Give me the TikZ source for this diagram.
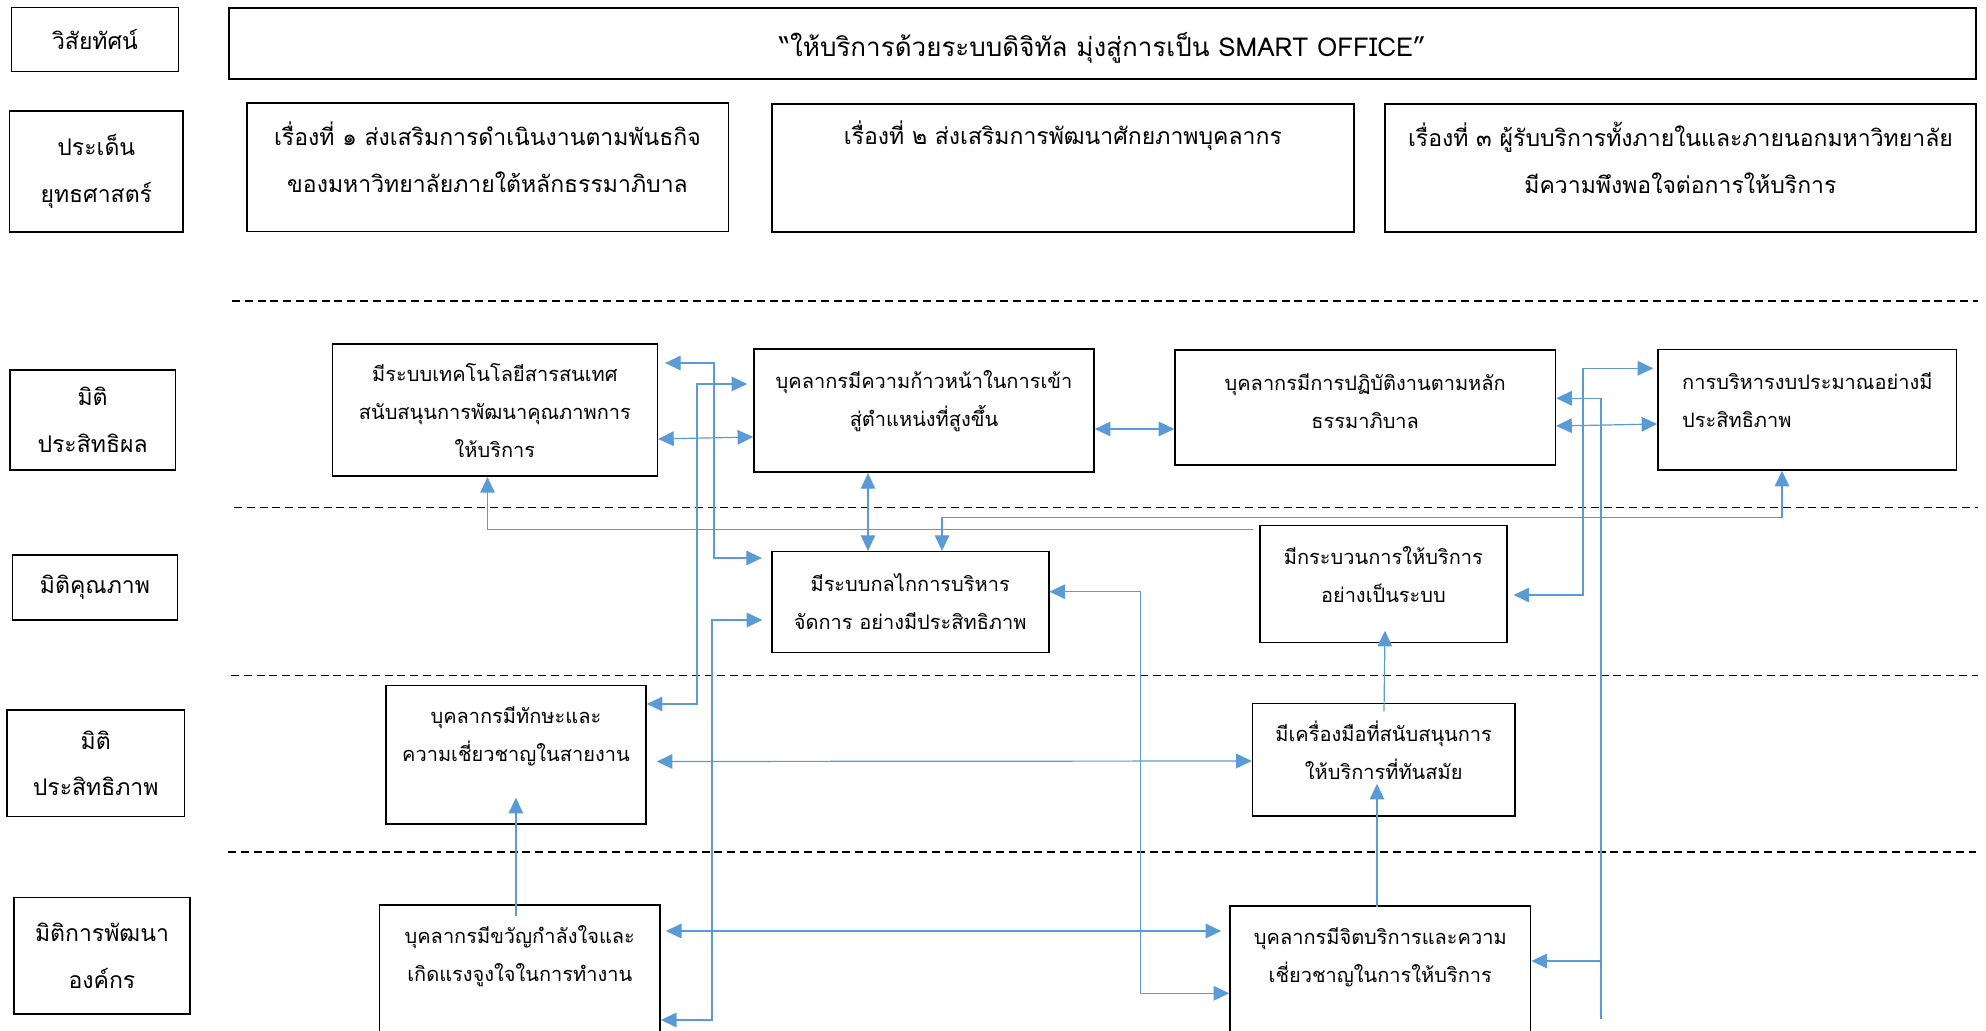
\documentclass[tikz,border=0pt]{standalone}
\usepackage{fontspec}
\newfontfamily\thaifont[Script=Thai]{Loma}
\usetikzlibrary{arrows.meta, calc}
\definecolor{linkblue}{RGB}{91,155,213}

\begin{document}
\begin{tikzpicture}[x=0.5pt, y=-0.5pt,
  every node/.style={align=center, font=\thaifont\fontsize{10}{19}\selectfont},
  head/.style={font=\thaifont\fontsize{11.5}{23.4}\selectfont},
  box/.style={draw, line width=0.8pt, inner sep=1pt},
  link/.style={draw=linkblue, line width=0.6pt},
  sep/.style={dash pattern=on 4pt off 2.4pt, line width=0.7pt},
  >={Triangle[length=7.8pt, width=7.3pt]}]
\useasboundingbox (0,0) rectangle (1986,1031);
\clip (0,0) rectangle (1986,1031);

% vision and strategic issues
\node[box, head, minimum width=83.5pt, minimum height=32pt] (lvision) at (95,39.5) {วิสัยทัศน์};
\node[box, minimum width=873.5pt, minimum height=35.5pt] (vision) at (1102.5,43.7) {};
\node[font=\thaifont\fontsize{13}{20}\selectfont] (visiontxt) at ($(vision)+(0,4)$) {“ให้บริการด้วยระบบดิจิทัล มุ่งสู่การเป็น SMART OFFICE”};
\node[box, head, minimum width=86.7pt, minimum height=60.5pt] (lissue) at (96.3,171.7) {ประเด็น\\ยุทธศาสตร์};
\node[box, minimum width=240.8pt, minimum height=64.2pt] (issue1) at (487.5,167.5) {};
\node[head] (issue1txt) at ($(issue1)+(0,-10)$) {เรื่องที่ ๑ ส่งเสริมการดำเนินงานตามพันธกิจ\\ของมหาวิทยาลัยภายใต้หลักธรรมาภิบาล};
\node[box, minimum width=291.2pt, minimum height=63.9pt] (issue2) at (1062.9,167.9) {};
\node[head] (issue2txt) at ($(issue2)+(0,-32)$) {เรื่องที่ ๒ ส่งเสริมการพัฒนาศักยภาพบุคลากร};
\node[box, minimum width=295.6pt, minimum height=63.9pt] (issue3) at (1680.4,167.9) {};
\node[head] (issue3txt) at ($(issue3)+(0,-10)$) {เรื่องที่ ๓ ผู้รับบริการทั้งภายในและภายนอกมหาวิทยาลัย\\มีความพึงพอใจต่อการให้บริการ};

% dimension separators
\draw[sep] (232,301) -- (1978,301);
\draw[sep] (234,507.7) -- (1978,507.7);
\draw[sep] (231,675.5) -- (1978,675.5);
\draw[sep] (228,852) -- (1976,852);

% effectiveness
\node[box, head, minimum width=82.8pt, minimum height=50pt] (leffect) at (92.6,420) {มิติ\\ประสิทธิผล};
\node[box, minimum width=162.4pt, minimum height=66pt] (itsys) at (494.9,410.3) {มีระบบเทคโนโลยีสารสนเทศ\\สนับสนุนการพัฒนาคุณภาพการ\\ให้บริการ};
\node[box, minimum width=170pt, minimum height=61.5pt] (career) at (924,410.8) {};
\node (careertxt) at ($(career)+(0,-9.5)$) {บุคลากรมีความก้าวหน้าในการเข้า\\สู่ตำแหน่งที่สูงขึ้น};
\node[box, minimum width=190.2pt, minimum height=57.5pt] (govern) at (1365.2,407.5) {};
\node (governtxt) at ($(govern)+(0,-6.5)$) {บุคลากรมีการปฏิบัติงานตามหลัก\\ธรรมาภิบาล};
\node[box, minimum width=149.3pt, minimum height=60.3pt] (budget) at (1807.3,409.7) {};
\node[align=left] (budgettxt) at ($(budget)+(0,-10)$) {การบริหารงบประมาณอย่างมี\\ประสิทธิภาพ};

% quality
\node[box, head, minimum width=82.5pt, minimum height=32.5pt] (lquality) at (95,587.5) {มิติคุณภาพ};
\node[box, minimum width=138.5pt, minimum height=50.3pt] (mech) at (910.2,602) {มีระบบกลไกการบริหาร\\จัดการ อย่างมีประสิทธิภาพ};
\node[box, minimum width=123.4pt, minimum height=58.3pt] (process) at (1383.4,584) {};
\node (processtxt) at ($(process)+(0,-9)$) {มีกระบวนการให้บริการ\\อย่างเป็นระบบ};

% efficiency
\node[box, head, minimum width=88.8pt, minimum height=53.3pt] (lefficient) at (95.7,763.3) {มิติ\\ประสิทธิภาพ};
\node[box, minimum width=130.1pt, minimum height=69.2pt] (skill) at (515.9,754.8) {};
\node (skilltxt) at ($(skill)+(0,-18)$) {บุคลากรมีทักษะและ\\ความเชี่ยวชาญในสายงาน};
\node[box, minimum width=131.1pt, minimum height=56.2pt] (tools) at (1383.7,759.8) {};
\node (toolstxt) at ($(tools)+(0,-9.5)$) {มีเครื่องมือที่สนับสนุนการ\\ให้บริการที่ทันสมัย};

% organisation development
\node[box, head, minimum width=88pt, minimum height=58.2pt] (lorg) at (102,955.8) {มิติการพัฒนา\\องค์กร};
\node[box, minimum width=140.3pt, minimum height=80pt, anchor=north] (morale) at (519.8,904.3) {};
\node (moraletxt) at ($(morale.north)+(0,52)$) {บุคลากรมีขวัญกำลังใจและ\\เกิดแรงจูงใจในการทำงาน};
\node[box, minimum width=150.3pt, minimum height=80pt, anchor=north] (service) at (1380.3,905) {};
\node (servicetxt) at ($(service.north)+(0,52)$) {บุคลากรมีจิตบริการและความ\\เชี่ยวชาญในการให้บริการ};

% links
\draw[link,<->] (itsys.east |- 0,439) -- (career.west |- 0,437);
\draw[link,<->] (career.east |- 0,429) -- (govern.west |- 0,429);
\draw[link,<->] (govern.east |- 0,426) -- (budget.west |- 0,424);
\draw[link,<->, shorten <=3.5pt, shorten >=4.5pt] (itsys.east |- 0,363) -| (714,558) -- (mech.west |- 0,558);
\draw[link,<->, shorten <=3pt] (career.west |- 0,384) -| (697,704) -- (skill.east |- 0,704);
\draw[link,->, shorten <=3pt] (process.west |- 0,529.3) -| ([xshift=-3.7pt]itsys.south);
\draw[link,<->] (career.south -| 868,0) -- (mech.north -| 868,0);
\draw[link,<->] (mech.north -| 942,0) |- (1782,517.7) -- (budget.south -| 1782,0);
\draw[link,<->, shorten <=4.3pt] (mech.west |- 0,620) -| (712,1020) -- (morale.east |- 0,1020);
\draw[link,<->] (mech.east |- 0,591.7) -| (1140.7,993.3) -- (service.west |- 0,993.3);
\draw[link,<->, shorten <=3pt, shorten >=2pt] (process.east |- 0,595) -| (1583,368.3) -- (budget.west |- 0,368.3);
\coordinate (tail) at (1601,1019.3);
\draw[link,->] (tail) |- (govern.east |- 0,398.3);
\draw[link,->] (tail |- 0,961) -- (service.east |- 0,961);
\draw[link,<->, shorten <=5pt] (skill.east |- 0,761.5) -- (tools.west |- 0,761);
\draw[link,<->, shorten <=2.5pt, shorten >=4pt] (morale.east |- 0,931) -- (service.west |- 0,931);
\draw[link,->] ($(morale.north -| skill.south)+(0,12)$) -- ($(skill.south)+(0,-27)$);
\draw[link,->] ($(service.north -| 1377,0)+(0,2)$) -- ($(tools.south -| 1377,0)+(0,-33)$);
\draw[link,->] ($(tools.north -| 1384,0)+(0,8.6)$) -- ($(process.south -| 1385,0)+(0,-12.3)$);
\end{tikzpicture}
\end{document}
